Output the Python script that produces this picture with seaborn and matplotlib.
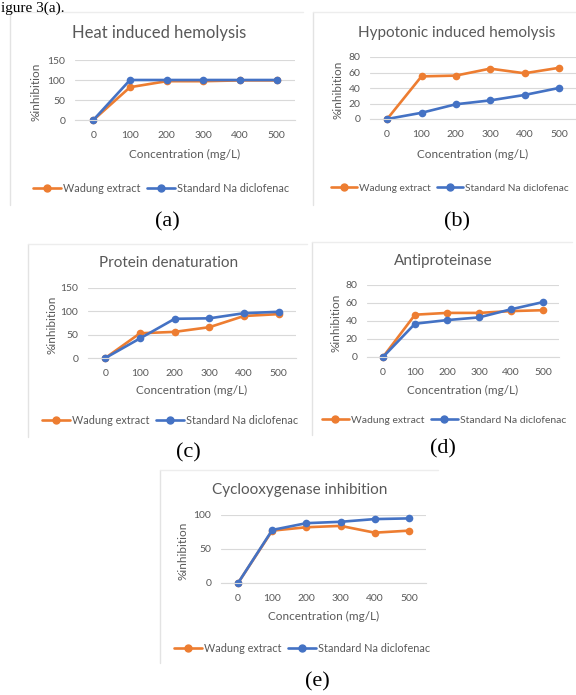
import numpy as np
import pandas as pd
import matplotlib
matplotlib.use('Agg')
import matplotlib.pyplot as plt
import seaborn as sns
from matplotlib.lines import Line2D

# data
conc = ['0', '100', '200', '300', '400', '500']

heat_wadung = [0, 82, 97, 97, 99, 99]
heat_std = [0, 100, 100, 100, 100, 100]

hypo_wadung = [0, 55, 56, 65, 59, 66]
hypo_std = [0, 8, 19, 24, 31, 40]

prot_wadung = [0, 53, 56, 66, 90, 94]
prot_std = [0, 42, 84, 85, 96, 99]

anti_wadung = [0, 47, 49, 49, 51, 52]
anti_std = [0, 37, 41, 44, 53, 61]

cox_wadung = [0, 77, 82, 84, 74, 77]
cox_std = [0, 78, 88, 90, 94, 95]

series_names = ['Wadung extract', 'Standard Na diclofenac']
titles = ['Heat induced hemolysis', 'Hypotonic induced hemolysis',
          'Protein denaturation', 'Antiproteinase', 'Cyclooxygenase inhibition']
panel_tags = ['(a)', '(b)', '(c)', '(d)', '(e)']

sns.set_theme(style='white')
plt.rcParams['font.family'] = ['Lato', 'DejaVu Sans']

W, H = 576, 695
fig = plt.figure(figsize=(W / 100, H / 100), dpi=100)
fig.patch.set_facecolor('white')

ORANGE = '#ED7D31'
BLUE = '#4472C4'
TXT = '#595959'
GRID = '#D9D9D9'


def fx(x):
    return x / W


def fy(y):
    return 1 - y / H


# layout in pixels: axes (left, right, top, bottom), box (left, top, right, bottom),
# title (x, y, size), ylabel x, xlabel y, legend (x, y, size), tag (x, y)
layout = [
    dict(ax=(75, 295, 60, 120), box=(10, 12, 303, 205), title=(159, 33, 12), ylab=36,
         xlab=154, leg=(161, 188, 7.8), tag=(167, 222), yt=[0, 50, 100, 150]),
    dict(ax=(370, 576, 57, 119), box=(313, 12, 580, 205), title=(457, 33, 11), ylab=338,
         xlab=154, leg=(450, 188, 7.3), tag=(457, 222), yt=[0, 20, 40, 60, 80]),
    dict(ax=(88, 296, 288, 358), box=(28, 244, 307, 437), title=(169, 263, 11), ylab=52,
         xlab=390, leg=(170, 420, 7.8), tag=(188, 453), yt=[0, 50, 100, 150]),
    dict(ax=(367, 559, 285, 357), box=(312, 242, 572, 435), title=(443, 261, 11), ylab=336,
         xlab=390, leg=(444, 420, 7.5), tag=(443, 449), yt=[0, 20, 40, 60, 80]),
    dict(ax=(221, 426, 515, 583), box=(160, 470, 438, 663), title=(300, 490, 11), ylab=183,
         xlab=616, leg=(302, 648, 7.8), tag=(317, 682), yt=[0, 50, 100]),
]

values = [
    (heat_wadung, heat_std),
    (hypo_wadung, hypo_std),
    (prot_wadung, prot_std),
    (anti_wadung, anti_std),
    (cox_wadung, cox_std),
]

# caption text at the very top (cropped in the source scan)
fig.text(fx(1), fy(2), 'igure 3(a).', family='Liberation Serif', fontsize=11,
         color='black', ha='left', va='top')

for i, (lay, (wad, std)) in enumerate(zip(layout, values)):
    l, r, t, b = lay['ax']
    ax = fig.add_axes([fx(l), fy(b), fx(r - l), (b - t) / H])

    df = pd.DataFrame({
        'conc': conc * 2,
        'val': list(wad) + list(std),
        'series': [series_names[0]] * 6 + [series_names[1]] * 6,
    })
    sns.lineplot(data=df, x='conc', y='val', hue='series',
                 palette=[ORANGE, BLUE], marker='o', markersize=5.5,
                 markeredgewidth=0, linewidth=1.9, ax=ax, legend=False,
                 clip_on=False)

    ax.set_xlim(-0.5, 5.5)
    ax.set_ylim(0, lay['yt'][-1])
    ax.set_yticks(lay['yt'])
    ax.grid(axis='y', color=GRID, linewidth=0.8)
    ax.set_axisbelow(True)
    for s in ['left', 'right', 'top']:
        ax.spines[s].set_visible(False)
    ax.spines['bottom'].set_color(GRID)
    ax.spines['bottom'].set_linewidth(0.8)
    ax.tick_params(axis='both', length=0, labelsize=7.5, labelcolor=TXT)
    ax.tick_params(axis='y', pad=7)
    ax.tick_params(axis='x', pad=8)
    ax.set_facecolor('none')

    ax.set_ylabel('%inhibition', fontsize=8.5, color=TXT)
    ax.yaxis.set_label_coords(fx(lay['ylab']), fy((t + b) / 2 + 2), transform=fig.transFigure)
    ax.set_xlabel('Concentration (mg/L)', fontsize=8.5, color=TXT)
    ax.xaxis.set_label_coords(fx((l + r) / 2), fy(lay['xlab']), transform=fig.transFigure)
    ax.xaxis.label.set_va('center')
    ax.yaxis.label.set_va('center')

    fig.text(fx(lay['title'][0]), fy(lay['title'][1]), titles[i], fontsize=lay['title'][2],
             color=TXT, ha='center', va='center')

    handles = [Line2D([], [], color=c, marker='o', markersize=5, linewidth=1.9)
               for c in [ORANGE, BLUE]]
    fig.legend(handles, series_names, loc='center',
               bbox_to_anchor=(fx(lay['leg'][0]), fy(lay['leg'][1])),
               ncol=2, frameon=False, fontsize=lay['leg'][2], labelcolor=TXT,
               handlelength=2.6, handletextpad=0.2, columnspacing=0.6,
               borderpad=0, borderaxespad=0)

    bl, bt, br, bb = lay['box']
    fig.add_artist(Line2D([fx(bl), fx(bl)], [fy(bt), fy(bb)], color='#E3E3E3', linewidth=1))
    fig.add_artist(Line2D([fx(bl), fx(br)], [fy(bt), fy(bt)], color='#EDEDED', linewidth=1))

    fig.text(fx(lay['tag'][0]), fy(lay['tag'][1]), panel_tags[i], family='Liberation Serif',
             fontsize=16, color='black', ha='center', va='center')

fig.savefig('out.png', dpi=100, facecolor='white')
